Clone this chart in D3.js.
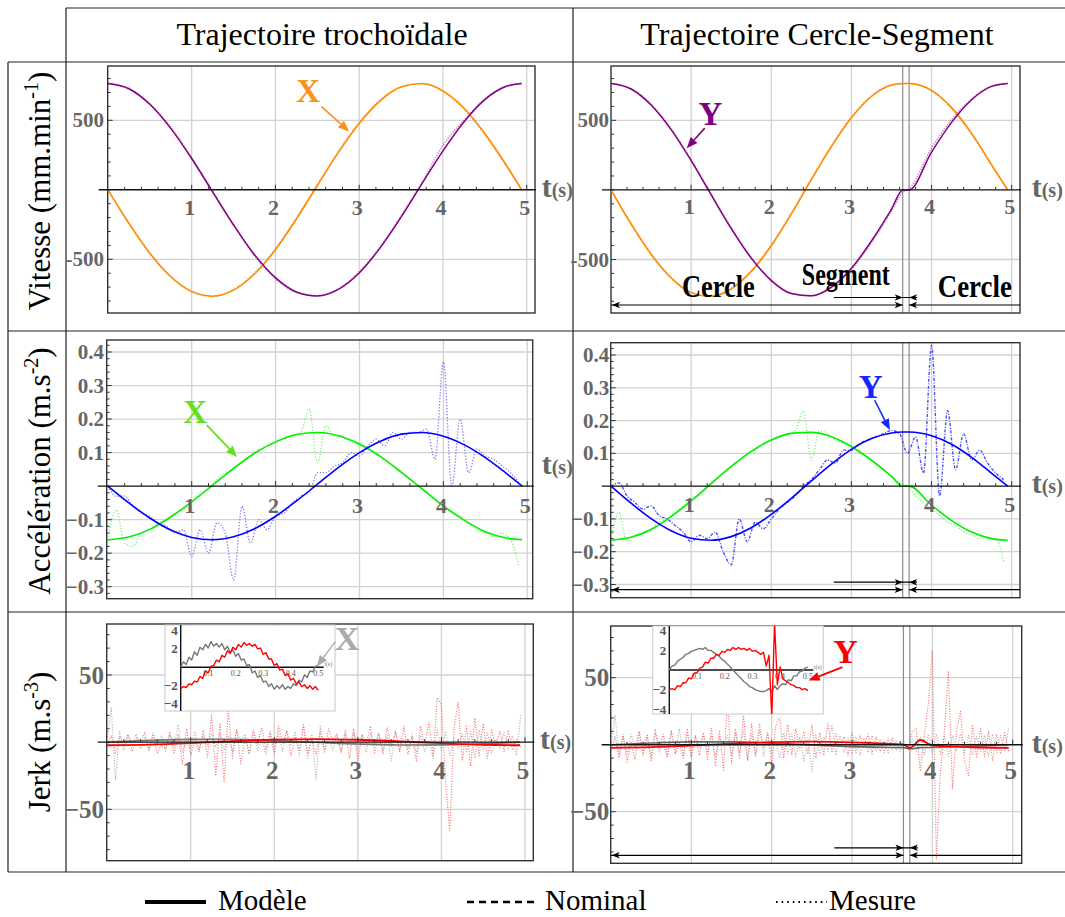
<!DOCTYPE html>
<html>
<head>
<meta charset="utf-8">
<script src="https://cdn.jsdelivr.net/npm/d3@7"></script>
<style>
body { margin: 0; background: #fff; }
text { font-family: "Liberation Serif", "Times New Roman", serif; }
</style>
</head>
<body>
<svg id="fig" width="1065" height="917"></svg>
<script>
// ---------------- data ----------------
// segment boundaries of the Cercle-Segment path (s)
var SEG = [3.64, 3.72];

// velocity (mm/min) — trochoidal path
var T_VEL_L = [0, 0.25, 0.5, 0.75, 1, 1.25, 1.5, 1.75, 2, 2.25, 2.5, 2.75, 3, 3.25, 3.5, 3.75, 4, 4.25, 4.5, 4.75, 4.94];
var VX_L = [0, -239, -455, -624, -731, -765, -722, -606, -431, -211, 29, 267, 477, 640, 739, 764, 712, 589, 405, 184, 0];
var VY_L = [765, 727, 615, 442, 225, -15, -253, -467, -632, -735, -764, -717, -598, -418, -197, 44, 280, 488, 649, 743, 765];
var VX_L_MES = [0, -246, -462, -628, -736, -768, -718, -598, -424, -200, 38, 276, 485, 646, 741, 762, 706, 580, 396, 176, 0];
var VY_L_MES = [765, 730, 620, 450, 232, -8, -248, -475, -640, -739, -762, -712, -590, -410, -188, 52, 320, 500, 655, 745, 765];

// velocity (mm/min) — circle-segment path
var T_VEL_R = [0, 0.25, 0.5, 0.75, 1, 1.25, 1.5, 1.75, 2, 2.25, 2.5, 2.75, 3, 3.25, 3.5, 3.64, 3.72, 4, 4.25, 4.5, 4.75, 4.95];
var VX_R = [0, -243, -461, -631, -736, -764, -712, -587, -401, -174, 73, 311, 518, 671, 753, 765, 765, 715, 591, 406, 180, 0];
var VY_R = [765, 725, 610, 433, 210, -36, -278, -490, -652, -745, -761, -699, -563, -367, -138, 0, 0, 272, 485, 648, 744, 765];
var VX_R_MES = [0, -250, -468, -636, -740, -766, -708, -580, -392, -164, 82, 320, 525, 676, 755, 764, 764, 710, 585, 398, 172, 0];
var VY_R_MES = [765, 728, 616, 440, 218, -28, -270, -484, -648, -744, -762, -703, -570, -378, -152, -18, 8, 300, 505, 652, 746, 765];

// acceleration (m/s²) — models on the velocity grids
var AX_L = [-0.160, -0.152, -0.129, -0.092, -0.047, 0.003, 0.053, 0.098, 0.132, 0.154, 0.160, 0.150, 0.125, 0.088, 0.041, -0.009, -0.059, -0.102, -0.136, -0.155, -0.160];
var AY_L = [0, -0.050, -0.095, -0.131, -0.153, -0.160, -0.151, -0.127, -0.090, -0.044, 0.006, 0.056, 0.100, 0.134, 0.155, 0.160, 0.149, 0.123, 0.085, 0.038, 0];
var AX_R = [-0.165, -0.156, -0.132, -0.093, -0.045, 0.008, 0.060, 0.106, 0.141, 0.161, 0.164, 0.151, 0.121, 0.079, 0.030, 0, 0, -0.058, -0.105, -0.140, -0.160, -0.165];
var AY_R = [0, -0.052, -0.099, -0.136, -0.159, -0.165, -0.154, -0.127, -0.086, -0.037, 0.016, 0.067, 0.112, 0.145, 0.162, 0.165, 0.165, 0.154, 0.128, 0.088, 0.039, 0];

// acceleration measured, every 0.1 s from 0 to 4.9
var T_ACC = d3.range(50).map(function(i) { return i / 10; });
var AX_L_MES = [-0.16, -0.07, -0.17, -0.18, -0.14, -0.13, -0.11, -0.10, -0.08, -0.07,
  -0.05, -0.02, -0.01, 0.02, 0.04, 0.05, 0.07, 0.09, 0.11, 0.12,
  0.13, 0.14, 0.15, 0.16, 0.23, 0.07, 0.18, 0.15, 0.15, 0.13,
  0.13, 0.11, 0.10, 0.08, 0.06, 0.04, 0.02, 0.00, -0.02, -0.04,
  -0.06, -0.08, -0.09, -0.11, -0.13, -0.14, -0.15, -0.14, -0.16, -0.24];
var AY_L_MES = [0, -0.03, -0.03, -0.06, -0.08, -0.09, -0.11, -0.12, -0.14, -0.13,
  -0.21, -0.13, -0.20, -0.11, -0.14, -0.28, -0.06, -0.17, -0.10, -0.13,
  -0.09, -0.08, -0.05, -0.03, -0.02, 0.04, 0.04, 0.06, 0.07, 0.10,
  0.09, 0.12, 0.14, 0.12, 0.16, 0.14, 0.16, 0.16, 0.17, 0.08,
  0.37, 0.00, 0.20, 0.04, 0.11, 0.09, 0.08, 0.06, 0.04, 0.01];
var AX_R_MES = [-0.165, -0.08, -0.17, -0.15, -0.14, -0.13, -0.11, -0.10, -0.08, -0.06,
  -0.04, -0.03, 0.00, 0.02, 0.04, 0.06, 0.08, 0.10, 0.11, 0.13,
  0.14, 0.15, 0.16, 0.17, 0.23, 0.08, 0.17, 0.16, 0.14, 0.13,
  0.12, 0.10, 0.09, 0.07, 0.05, 0.03, 0.01, 0.00, -0.03, -0.05,
  -0.07, -0.09, -0.11, -0.12, -0.14, -0.15, -0.16, -0.16, -0.16, -0.23];
var AY_R_MES = [0, 0.01, -0.03, -0.05, -0.07, -0.06, -0.09, -0.10, -0.12, -0.14,
  -0.17, -0.15, -0.16, -0.14, -0.20, -0.24, -0.10, -0.17, -0.11, -0.13,
  -0.10, -0.07, -0.05, -0.03, 0.00, 0.02, 0.05, 0.08, 0.07, 0.11,
  0.11, 0.13, 0.14, 0.15, 0.16, 0.17, 0.16, 0.10, 0.15, 0.04,
  0.43, -0.03, 0.23, 0.05, 0.16, 0.08, 0.11, 0.07, 0.04, 0.02];

// jerk (m/s³) models
var T_JM_L = [0, 0.5, 1, 1.5, 2, 2.5, 3, 3.5, 4, 4.5, 4.94];
var JY_L = [-2.3, -1.85, -0.7, 0.8, 1.9, 2.3, 1.8, 0.6, -0.8, -1.95, -2.3];
var JX_L = [0, 1.3, 2.1, 2.1, 1.2, -0.1, -1.4, -2.1, -2.0, -1.2, 0];
var T_JM_R = [0, 0.5, 1, 1.5, 2, 2.5, 3, 3.5, 3.64, 3.72, 3.85, 4, 4.5, 4.95];
var JY_R = [-2.3, -1.85, -0.7, 0.8, 1.9, 2.3, 1.8, 0.6, 0.2, -2.5, 3.5, -0.5, -1.9, -2.3];
var JX_R = [0, 1.3, 2.1, 2.1, 1.2, -0.1, -1.4, -2.1, -2.2, -3, -2.2, -2.0, -1.2, 0];

// jerk measured, every 0.05 s from 0 to 4.95
var T_JERK = d3.range(100).map(function(i) { return i / 20; });
var JY_L_MES = [-3, 5, -8, 4, -2, 6, -7, 3, 1, 7,
  -6, 5, -8, -2, -5, 8, -9, 6, -16, 10,
  -10, 2, -7, 9, -11, 20, -25, 14, -30, 25,
  -12, 10, -16, 3, -9, 9, -2, 11, -6, 7,
  -9, 12, -1, 8, -10, 4, -6, 12, -8, 2,
  -9, 8, -6, 10, 1, 6, -8, 9, -12, 10,
  -14, 6, -1, 12, -8, 7, -9, 11, -3, 8,
  -7, 12, -9, 4, -14, 12, -3, 15, -10, 33,
  28, -30, -66, 10, 30, -14, 12, -18, 18, -10,
  14, -12, 9, -3, 8, -7, 9, -6, 2, -4];
var JX_L_MES = [0, 26, -28, 8, -6, 5, -1, 6, -5, 4,
  -6, 7, -2, 5, -7, 6, -4, 13, -8, 2,
  -5, 8, -6, 5, -2, 6, -4, 7, -6, 5,
  -7, 9, -1, 6, -8, 7, -6, 2, -9, 8,
  -5, 6, -7, 9, -2, 8, -10, 14, -12, 6,
  -28, 12, -8, 3, -6, 5, -7, 6, -1, 7,
  -6, 5, -8, 7, -2, 6, -7, 5, -14, 8,
  -6, 2, -5, 6, -8, 5, -7, 1, -12, 9,
  -6, 8, -10, 3, -5, 6, -7, 8, -12, 9,
  -6, 7, -8, 2, -5, 7, -6, 5, -10, 21];
var JY_R_MES = [-4, 6, -10, 8, -13, 2, -11, 10, -8, 7,
  -12, 9, -2, 8, -9, 10, -7, 1, -10, 12,
  -9, 7, -8, 9, -11, 13, -16, 10, -19, 34,
  -14, 12, -10, 22, -12, 16, -9, 11, -2, 9,
  -15, 14, 20, -10, 15, -8, 12, -3, 10, -7,
  15, -10, 9, -8, 16, -6, 8, -2, 6, -8,
  9, -6, 7, -1, 8, -7, 6, -5, 2, -6,
  5, -4, 3, -2, -3, 10, 12, -20, 8, 30,
  70, -85, -20, 10, 55, -33, 10, 25, -12, -23,
  15, -10, 12, -9, 10, -12, 8, -7, 9, -5];
var JX_R_MES = [0, 22, -8, 6, -7, 8, -2, 10, -5, 7,
  -9, 12, -6, 3, -10, 11, -7, 12, -8, 9,
  -10, 6, -2, 8, -6, 7, -9, 6, -1, 7,
  -8, 9, -6, 10, -12, 8, -7, 16, -9, 8,
  -6, 2, -10, 9, -7, 8, -9, 6, -12, 5,
  -20, 8, -7, 6, -5, 15, -8, 7, -6, 5,
  -7, 6, -8, 5, -6, 7, -5, 4, -6, 5,
  -4, 3, -5, 2, -3, 4, -5, 6, -8, 7,
  -6, 8, -7, 6, -9, 7, -5, 8, -6, 7,
  -8, 6, -5, 7, -9, 8, -6, 7, -5, 13];

// jerk insets (zoom on the model), every 0.01 from 0 to 0.5
var T_INS = d3.range(51).map(function(i) { return i / 100; });
var INS_L_GRAY = [0, 0.6, 0.3, 1.1, 0.8, 1.7, 1.3, 2.2, 1.9, 2.5,
  2.1, 2.8, 2.3, 2.6, 2.2, 2.6, 1.9, 2.3, 1.6, 1.9,
  1.2, 1.5, 0.8, 0.9, 0.2, 0.3, -0.6, -0.4, -1.1, -0.9,
  -1.6, -1.5, -2.1, -1.8, -2.4, -2.0, -2.3, -1.9, -2.4, -2.1,
  -2.3, -1.8, -2.0, -1.4, -1.6, -0.8, -1.1, -0.4, -0.5, 0.1, 0.2];
var INS_L_RED = [-2.3, -2.1, -2.2, -1.8, -1.9, -1.5, -1.6, -1.0, -1.2, -0.4,
  -0.6, 0.1, 0.2, 0.8, 0.6, 1.3, 1.1, 1.8, 1.5, 2.2,
  1.9, 2.5, 2.2, 2.7, 2.4, 2.6, 2.3, 2.5, 2.0, 2.1,
  1.4, 1.6, 0.9, 0.9, 0.2, 0.4, -0.3, -0.2, -0.9, -0.7,
  -1.4, -1.2, -1.8, -1.6, -2.1, -1.9, -2.3, -2.0, -2.4, -2.1, -2.5];
var INS_R_GRAY = [0, 0.4, 0.5, 0.9, 1.1, 1.3, 1.6, 1.7, 1.9, 2.0,
  2.1, 2.2, 2.1, 2.3, 2.0, 2.0, 1.8, 1.6, 1.4, 1.1,
  0.9, 0.6, 0.3, 0.0, -0.3, -0.6, -0.9, -1.2, -1.4, -1.7,
  -1.8, -2.0, -2.1, -2.2, -2.2, -2.1, -1.9, -2.2, -1.6, -2.0,
  -1.6, -1.4, -1.5, -1.0, -1.1, -0.6, -0.6, -0.2, -0.1, 0.2, 0.3];
var INS_R_RED = [-2.0, -1.9, -2.0, -1.6, -1.7, -1.3, -1.3, -0.8, -0.9, -0.3,
  -0.3, 0.2, 0.3, 0.8, 0.7, 1.2, 1.2, 1.6, 1.5, 1.9,
  1.8, 2.1, 2.0, 2.3, 2.1, 2.3, 2.1, 2.2, 2.0, 2.2,
  1.9, 2.0, 1.8, 1.6, 1.8, 0.4, 1.5, -4.8, 4.8, -1.5,
  0.3, -0.9, -1.1, -1.3, -1.5, -1.6, -1.8, -1.8, -2.0, -1.9, -2.1];

var X_TICKS = [1, 2, 3, 4, 5];
var LEGEND = ["Modèle", "Nominal", "Mesure"];

// ---------------- colours ----------------
var ORANGE = "#ff8a00", PURPLE = "#800080", GREEN = "#00f000", BLUE = "#0000ff",
    RED = "#ff0000", LABEL = "#666";

var svg = d3.select("#fig");
svg.append("rect").attr("width", 1065).attr("height", 917).attr("fill", "#fff");

// ---------------- table frame ----------------
var frame = svg.append("g").attr("stroke", "#222").attr("stroke-width", 1.2);
[[66, 8, 1065, 8], [8, 62, 1065, 62], [8, 331, 1065, 331], [8, 612, 1065, 612], [8, 872, 1065, 872],
 [8, 62, 8, 872], [66, 8, 66, 872], [573, 8, 573, 872]].forEach(function(l) {
    frame.append("line").attr("x1", l[0]).attr("y1", l[1]).attr("x2", l[2]).attr("y2", l[3]);
});

svg.append("text").attr("x", 322).attr("y", 45).attr("text-anchor", "middle")
    .attr("font-size", 32).text("Trajectoire trochoïdale");
svg.append("text").attr("x", 817).attr("y", 45).attr("text-anchor", "middle")
    .attr("font-size", 32).text("Trajectoire Cercle-Segment");

function rowLabel(cy, main, sup) {
    var t = svg.append("text").attr("transform", "translate(50," + cy + ") rotate(-90)")
        .attr("text-anchor", "middle").attr("font-size", 31);
    t.append("tspan").text(main);
    t.append("tspan").attr("font-size", 20).attr("dy", -12).text(sup);
    t.append("tspan").attr("dy", 12).text(")");
}
rowLabel(191, "Vitesse (mm.min", "-1");
rowLabel(471, "Accélération (m.s", "-2");
rowLabel(742, "Jerk (m.s", "-3");

// ---------------- helpers ----------------
var clipCount = 0;

function addLine(g, xs, ys, sx, sy, color, width, dash, curve, opacity) {
    var pts = xs.map(function(t, i) { return [t, ys[i]]; });
    var gen = d3.line()
        .x(function(d) { return sx(d[0]); })
        .y(function(d) { return sy(d[1]); })
        .curve(curve || d3.curveLinear);
    return g.append("path").attr("d", gen(pts))
        .attr("fill", "none").attr("stroke", color).attr("stroke-width", width)
        .attr("stroke-dasharray", dash || null).attr("opacity", opacity || 1)
        .attr("stroke-linejoin", "round");
}

function arrowHead(g, xTip, y, dir) {
    // dir = +1 points right, -1 points left
    g.append("path")
        .attr("d", "M" + xTip + "," + y + "L" + (xTip - dir * 8) + "," + (y - 3.2) +
            "L" + (xTip - dir * 6) + "," + y + "L" + (xTip - dir * 8) + "," + (y + 3.2) + "Z")
        .attr("fill", "#000");
}

function annArrow(g, x1, y1, x2, y2, color, w, hl, hw) {
    var a = Math.atan2(y2 - y1, x2 - x1);
    var bx = x2 - hl * Math.cos(a), by = y2 - hl * Math.sin(a);
    var px = -Math.sin(a) * hw, py = Math.cos(a) * hw;
    g.append("line").attr("x1", x1).attr("y1", y1).attr("x2", bx).attr("y2", by)
        .attr("stroke", color).attr("stroke-width", w);
    g.append("path").attr("d", "M" + x2 + "," + y2 + "L" + (bx + px) + "," + (by + py) +
        "L" + (bx - px) + "," + (by - py) + "Z").attr("fill", color);
}

function annotate(p, label, t, v, from, to, color, size, w) {
    p.g.append("text").attr("x", p.sx(t)).attr("y", p.sy(v)).attr("text-anchor", "middle")
        .attr("font-size", size).attr("font-weight", "bold").attr("fill", color).text(label);
    annArrow(p.g, p.sx(from[0]), p.sy(from[1]), p.sx(to[0]), p.sy(to[1]), color, w, 11, 4.5);
}

function makePanel(o) {
    var g = svg.append("g");
    var sx = d3.scaleLinear().domain([0, 5]).range(o.xr);
    var sy = d3.scaleLinear().domain(o.yd).range(o.yr);
    var L = o.box[0], T = o.box[1], R = o.box[2], B = o.box[3];
    var id = "clip" + (clipCount++);
    svg.append("clipPath").attr("id", id).append("rect")
        .attr("x", L).attr("y", T).attr("width", R - L).attr("height", B - T);

    // grid
    g.selectAll(null).data(X_TICKS).enter().append("line")
        .attr("x1", sx).attr("x2", sx).attr("y1", T).attr("y2", B)
        .attr("stroke", "#d2d2d2").attr("stroke-width", 1.3);
    g.selectAll(null).data(o.yTicks).enter().append("line")
        .attr("x1", L).attr("x2", R).attr("y1", sy).attr("y2", sy)
        .attr("stroke", "#d2d2d2").attr("stroke-width", 1.3);

    // circle / segment boundaries
    if (o.seg) {
        g.selectAll(null).data(SEG).enter().append("line")
            .attr("x1", sx).attr("x2", sx).attr("y1", T).attr("y2", B)
            .attr("stroke", "#8c8c8c").attr("stroke-width", 1.2);
    }

    // frame
    g.append("rect").attr("x", L).attr("y", T).attr("width", R - L).attr("height", B - T)
        .attr("fill", "none").attr("stroke", "#333").attr("stroke-width", 1.4);

    // y minor ticks on left edge
    var lo = Math.ceil(sy.invert(B) / o.yMinor), hi = Math.floor(sy.invert(T) / o.yMinor);
    var minors = d3.range(lo, hi + 1).map(function(k) { return k * o.yMinor; });
    g.selectAll(null).data(minors).enter().append("line")
        .attr("x1", L).attr("y1", sy).attr("y2", sy)
        .attr("x2", function(d) {
            var major = o.yTicks.some(function(v) { return Math.abs(v - d) < o.yMinor / 10; });
            return L + (major ? 5 : 3);
        })
        .attr("stroke", "#333").attr("stroke-width", 1);

    // y tick labels
    g.selectAll(null).data(o.yTicks).enter().append("text")
        .attr("x", o.ylabX).attr("y", function(d) { return sy(d) + o.ylabSize * 0.34; })
        .attr("text-anchor", "end").attr("font-size", o.ylabSize).attr("font-weight", "bold")
        .attr("fill", LABEL).text(o.yFmt);

    var cg = g.append("g").attr("clip-path", "url(#" + id + ")");

    // x axis through zero
    var y0 = sy(0);
    g.append("line").attr("x1", L - 9).attr("x2", R + 1).attr("y1", y0).attr("y2", y0)
        .attr("stroke", "#111").attr("stroke-width", 1.4);
    var xt = d3.range(1, 26).map(function(k) { return k * 0.2; });
    g.selectAll(null).data(xt).enter().append("line")
        .attr("x1", sx).attr("x2", sx).attr("y1", y0)
        .attr("y2", function(d) { return Math.abs(d - Math.round(d)) < 0.01 ? y0 - 5 : y0 - 3; })
        .attr("stroke", "#333").attr("stroke-width", 1);
    g.selectAll(null).data(X_TICKS).enter().append("text")
        .attr("x", function(d) { return sx(d) - 2; }).attr("y", y0 + o.xlabDy)
        .attr("text-anchor", "middle").attr("font-size", o.xlabSize).attr("font-weight", "bold")
        .attr("fill", LABEL).text(function(d) { return d; });
    var ts = g.append("text").attr("x", o.tsX).attr("y", y0 + o.tsDy)
        .attr("font-weight", "bold").attr("fill", LABEL);
    ts.append("tspan").attr("font-size", 30).text("t");
    ts.append("tspan").attr("font-size", 20).text("(s)");

    // circle / segment extent arrows
    if (o.seg) {
        var a = g.append("g");
        var yl = B - 8, ys = B - 15.5;
        a.append("line").attr("x1", L).attr("x2", sx(SEG[0])).attr("y1", yl).attr("y2", yl)
            .attr("stroke", "#000").attr("stroke-width", 1.2);
        a.append("line").attr("x1", sx(SEG[1])).attr("x2", R).attr("y1", yl).attr("y2", yl)
            .attr("stroke", "#000").attr("stroke-width", 1.2);
        arrowHead(a, L + 1, yl, -1);
        arrowHead(a, sx(SEG[0]), yl, 1);
        arrowHead(a, sx(SEG[1]), yl, -1);
        a.append("line").attr("x1", sx(2.78)).attr("x2", sx(3.82)).attr("y1", ys).attr("y2", ys)
            .attr("stroke", "#000").attr("stroke-width", 1.2);
        arrowHead(a, sx(SEG[0]), ys, 1);
        arrowHead(a, sx(SEG[1]), ys, -1);
    }

    return { g: g, cg: cg, sx: sx, sy: sy };
}

function fmtPlain(d) { return d < 0 ? "-" + (-d) : "" + d; }
function fmtDec(d) { return d3.format(".1f")(d).replace("-", "\u2212"); }
function fmtInt(d) { return ("" + d).replace("-", "\u2212"); }

var SMOOTH = d3.curveMonotoneX;

// ---------------- velocity ----------------
var vl = makePanel({ xr: [107.9, 526.7], yd: [-500, 500], yr: [259.3, 120.3], box: [107.7, 66, 535, 313],
    yTicks: [-500, 500], yMinor: 100, yFmt: fmtPlain, ylabX: 104, ylabSize: 21,
    xlabDy: 25, xlabSize: 22, tsX: 541.7, tsDy: 7 });
addLine(vl.cg, T_VEL_L, VX_L_MES, vl.sx, vl.sy, ORANGE, 1.6, "1.2,1.4", SMOOTH, 0.7);
addLine(vl.cg, T_VEL_L, VY_L_MES, vl.sx, vl.sy, PURPLE, 1.6, "1.2,1.4", SMOOTH, 0.5);
addLine(vl.cg, T_VEL_L, VX_L, vl.sx, vl.sy, ORANGE, 1.5, null, SMOOTH);
addLine(vl.cg, T_VEL_L, VY_L, vl.sx, vl.sy, PURPLE, 1.5, null, SMOOTH);
annotate(vl, "X", 2.39, 635, [2.55, 599], [2.88, 419], "#f7931e", 33, 1.6);

var vr = makePanel({ xr: [611, 1011.7], yd: [-500, 500], yr: [259.5, 120.3], box: [611, 66, 1020, 313],
    yTicks: [-500, 500], yMinor: 100, yFmt: fmtPlain, ylabX: 609, ylabSize: 21,
    xlabDy: 24, xlabSize: 22, tsX: 1031.7, tsDy: 7, seg: true });
addLine(vr.cg, T_VEL_R, VX_R_MES, vr.sx, vr.sy, ORANGE, 1.6, "1.2,1.4", SMOOTH, 0.7);
addLine(vr.cg, T_VEL_R, VY_R_MES, vr.sx, vr.sy, PURPLE, 1.6, "1.2,1.4", SMOOTH, 0.5);
addLine(vr.cg, T_VEL_R, VX_R, vr.sx, vr.sy, ORANGE, 1.5, null, SMOOTH);
addLine(vr.cg, T_VEL_R, VY_R, vr.sx, vr.sy, PURPLE, 1.5, null, SMOOTH);
annotate(vr, "Y", 1.24, 468, [1.17, 444], [0.945, 300], PURPLE, 33, 1.6);
[["Cercle", 1.34, -16, 73], ["Segment", 2.93, -28, 88], ["Cercle", 4.54, -16, 74]].forEach(function(c) {
    vr.g.append("text").attr("x", vr.sx(c[1])).attr("y", 313 + c[2]).attr("text-anchor", "middle")
        .attr("font-size", 31).attr("font-weight", "bold").attr("fill", "#000")
        .attr("textLength", c[3]).attr("lengthAdjust", "spacingAndGlyphs").text(c[0]);
});

// ---------------- acceleration ----------------
var al = makePanel({ xr: [107.8, 527.3], yd: [-0.3, 0.4], yr: [586.7, 352], box: [106.7, 340, 532.7, 598.7],
    yTicks: [-0.3, -0.2, -0.1, 0.1, 0.2, 0.3, 0.4], yMinor: 0.02, yFmt: fmtDec, ylabX: 104, ylabSize: 21,
    xlabDy: 27, xlabSize: 22, tsX: 541.7, tsDy: -12 });
addLine(al.cg, T_ACC, AX_L_MES, al.sx, al.sy, "#55f055", 1.3, "1.2,1.8", SMOOTH, 0.8);
addLine(al.cg, T_ACC, AY_L_MES, al.sx, al.sy, "#5a5aff", 1.3, "1.2,1.8", SMOOTH, 0.85);
addLine(al.cg, T_VEL_L, AX_L, al.sx, al.sy, GREEN, 1.6, null, SMOOTH);
addLine(al.cg, T_VEL_L, AY_L, al.sx, al.sy, BLUE, 1.6, null, SMOOTH);
annotate(al, "X", 1.04, 0.189, [1.18, 0.182], [1.54, 0.087], "#66e01e", 33, 1.8);

var ar = makePanel({ xr: [611, 1011.7], yd: [-0.3, 0.4], yr: [584.5, 355], box: [610.7, 342.7, 1020, 597.7],
    yTicks: [-0.3, -0.2, -0.1, 0.1, 0.2, 0.3, 0.4], yMinor: 0.02, yFmt: fmtDec, ylabX: 609.3, ylabSize: 21,
    xlabDy: 26, xlabSize: 22, tsX: 1031.7, tsDy: 7, seg: true });
addLine(ar.cg, T_ACC, AX_R_MES, ar.sx, ar.sy, "#55f055", 1.3, "1.2,1.8", SMOOTH, 0.8);
addLine(ar.cg, T_ACC, AY_R_MES, ar.sx, ar.sy, "#3a3aff", 1.4, "3,1.5,1,1.5", SMOOTH, 0.9);
addLine(ar.cg, T_VEL_R, AX_R, ar.sx, ar.sy, GREEN, 1.6, null, SMOOTH);
addLine(ar.cg, T_VEL_R, AY_R, ar.sx, ar.sy, BLUE, 1.6, null, SMOOTH);
annotate(ar, "Y", 3.24, 0.268, [3.29, 0.262], [3.48, 0.171], "#1428ff", 33, 1.6);

// ---------------- jerk ----------------
function inset(p, o) {
    var g = p.g.append("g");
    var ix = d3.scaleLinear().domain([0, 0.5]).range([o.ax, o.ax + 5 * o.per01]);
    var iy = d3.scaleLinear().domain([-2, 2]).range([o.zero + 2 * o.perU, o.zero - 2 * o.perU]);
    var L = o.box[0], T = o.box[1], R = o.box[2], B = o.box[3];
    var id = "clip" + (clipCount++);
    svg.append("clipPath").attr("id", id).append("rect")
        .attr("x", L).attr("y", T).attr("width", R - L).attr("height", B - T);
    g.append("rect").attr("x", L).attr("y", T).attr("width", R - L).attr("height", B - T)
        .attr("fill", "#fff").attr("stroke", "#c8c8c8").attr("stroke-width", 1);
    g.append("line").attr("x1", o.ax).attr("x2", o.ax).attr("y1", T).attr("y2", B)
        .attr("stroke", "#111").attr("stroke-width", 1.4);
    g.append("line").attr("x1", o.ax).attr("x2", ix(0.52)).attr("y1", iy(0)).attr("y2", iy(0))
        .attr("stroke", "#111").attr("stroke-width", 1.4);
    g.selectAll(null).data([-4, -2, 2, 4]).enter().append("text")
        .attr("x", o.ax - 3).attr("y", function(d) { return iy(d) + 4.5; })
        .attr("text-anchor", "end").attr("font-size", 13).attr("font-weight", "bold")
        .attr("fill", "#555").text(fmtInt);
    g.selectAll(null).data([0.1, 0.2, 0.3, 0.4, 0.5]).enter().append("text")
        .attr("x", ix).attr("y", iy(0) + 9).attr("text-anchor", "middle")
        .attr("font-size", 8).attr("fill", "#555").text(function(d) { return d; });
    g.append("text").attr("x", ix(0.5) + 6).attr("y", iy(0) - 1).attr("font-size", 6)
        .attr("fill", "#777").text("t(s)");
    var cg = g.append("g").attr("clip-path", "url(#" + id + ")");
    addLine(cg, T_INS, o.gray, ix, iy, "#777", 1.4);
    addLine(cg, T_INS, o.red, ix, iy, RED, 1.4);
}

var jl = makePanel({ xr: [107.1, 525], yd: [-50, 50], yr: [809.3, 675], box: [106.7, 624, 533.3, 860.7],
    yTicks: [-50, 50], yMinor: 10, yFmt: fmtInt, ylabX: 104, ylabSize: 25,
    xlabDy: 37, xlabSize: 25, tsX: 540, tsDy: 7 });
addLine(jl.cg, T_JERK, JX_L_MES, jl.sx, jl.sy, "#9a9a9a", 1.1, "1,1.6", null, 0.8);
addLine(jl.cg, T_JERK, JY_L_MES, jl.sx, jl.sy, "#ff5050", 1.1, "1,1.6", null, 0.85);
addLine(jl.cg, T_JM_L, JX_L, jl.sx, jl.sy, "#777", 1.6, null, SMOOTH);
addLine(jl.cg, T_JM_L, JY_L, jl.sx, jl.sy, RED, 1.8, null, SMOOTH);
inset(jl, { box: [165, 625, 335, 711], ax: 180.7, per01: 27.5, zero: 667.3, perU: 9.17,
    gray: INS_L_GRAY, red: INS_L_RED });
annotate(jl, "X", 2.87, 68.7, [2.73, 74.9], [2.51, 56.3], "#aaa", 34, 1.4);

var jr = makePanel({ xr: [611, 1012.7], yd: [-50, 50], yr: [811.7, 677.7], box: [610.7, 626, 1021.7, 863.3],
    yTicks: [-50, 50], yMinor: 10, yFmt: fmtInt, ylabX: 609.3, ylabSize: 25,
    xlabDy: 34, xlabSize: 25, tsX: 1031.7, tsDy: 8, seg: true });
addLine(jr.cg, T_JERK, JX_R_MES, jr.sx, jr.sy, "#9a9a9a", 1.1, "1,1.6", null, 0.8);
addLine(jr.cg, T_JERK, JY_R_MES, jr.sx, jr.sy, "#ff5050", 1.1, "1,1.6", null, 0.85);
addLine(jr.cg, T_JM_R, JX_R, jr.sx, jr.sy, "#666", 1.6, null, SMOOTH);
addLine(jr.cg, T_JM_R, JY_R, jr.sx, jr.sy, RED, 1.8, null, SMOOTH);
inset(jr, { box: [652.7, 626, 823.3, 714], ax: 669.3, per01: 27.7, zero: 670, perU: 9.8,
    gray: INS_R_GRAY, red: INS_R_RED });
annotate(jr, "Y", 2.92, 60.7, [2.88, 57.9], [2.46, 48], RED, 34, 2);

// ---------------- legend ----------------
var lg = svg.append("g");
var legendItems = [
    { x1: 145, x2: 206, w: 4, dash: null, tx: 218 },
    { x1: 467, x2: 538, w: 2.5, dash: "7,5", tx: 545 },
    { x1: 776, x2: 827, w: 2, dash: "1.6,4", tx: 829 }
];
legendItems.forEach(function(it, i) {
    lg.append("line").attr("x1", it.x1).attr("x2", it.x2).attr("y1", 902).attr("y2", 902)
        .attr("stroke", "#000").attr("stroke-width", it.w).attr("stroke-dasharray", it.dash);
    lg.append("text").attr("x", it.tx).attr("y", 910).attr("font-size", 29).text(LEGEND[i]);
});
</script>
</body>
</html>
